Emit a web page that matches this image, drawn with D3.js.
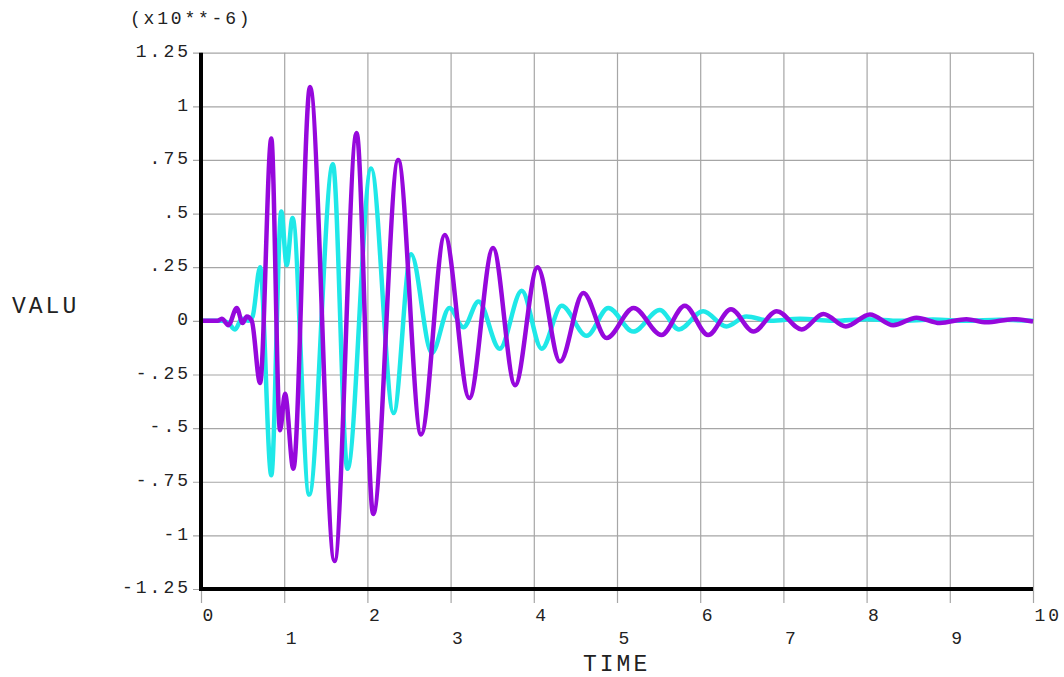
<!DOCTYPE html>
<html>
<head>
<meta charset="utf-8">
<script src="https://cdn.jsdelivr.net/npm/d3@7"></script>
<style>
  body { margin: 0; background: #fff; }
  text { font-family: "Liberation Mono", "DejaVu Sans Mono", monospace; fill: #222; }
</style>
</head>
<body>
<div id="chart"></div>
<script>
// time values (s) and responses (x10**-6) at peaks / troughs
const cyanTime = [0, 0.25, 0.33, 0.41, 0.49, 0.57, 0.62, 0.71, 0.845, 0.965, 1.03, 1.10, 1.30, 1.585, 1.76,
  2.045, 2.315, 2.525, 2.775, 2.985, 3.155, 3.335, 3.59, 3.855, 4.095, 4.335, 4.635, 4.895, 5.195, 5.515,
  5.745, 6.035, 6.315, 6.555, 6.85, 7.2, 7.6, 8.0, 8.4, 8.8, 9.2, 9.6, 10]
const cyanValue = [0, 0, -0.01, -0.04, 0.01, 0, 0.02, 0.25, -0.72, 0.51, 0.26, 0.48, -0.81, 0.73, -0.69,
  0.71, -0.43, 0.31, -0.15, 0.06, -0.03, 0.09, -0.13, 0.14, -0.13, 0.07, -0.07, 0.06, -0.05, 0.05,
  -0.04, 0.045, -0.026, 0.02, 0, 0.01, 0, 0.008, 0, 0.006, 0, 0.005, 0]

const purpleTime = [0, 0.2, 0.25, 0.33, 0.43, 0.5, 0.55, 0.61, 0.71, 0.845, 0.95, 1.01, 1.11, 1.31, 1.605,
  1.87, 2.07, 2.37, 2.645, 2.93, 3.225, 3.51, 3.775, 4.045, 4.315, 4.595, 4.875, 5.2, 5.535, 5.815,
  6.095, 6.37, 6.64, 6.92, 7.22, 7.48, 7.75, 8.04, 8.32, 8.6, 8.88, 9.2, 9.44, 9.76, 10]
const purpleValue = [0, 0, 0.01, -0.02, 0.06, -0.01, 0.02, 0, -0.29, 0.85, -0.51, -0.34, -0.69, 1.09, -1.12,
  0.876, -0.90, 0.75, -0.53, 0.40, -0.36, 0.34, -0.30, 0.25, -0.19, 0.13, -0.08, 0.06, -0.066, 0.07,
  -0.066, 0.054, -0.05, 0.045, -0.04, 0.032, -0.026, 0.03, -0.02, 0.015, -0.01, 0.008, -0.007, 0.008, -0.003]

const yTicks = [1.25, 1, 0.75, 0.5, 0.25, 0, -0.25, -0.5, -0.75, -1, -1.25]
const yTickLabels = ["1.25", "1", ".75", ".5", ".25", "0", "-.25", "-.5", "-.75", "-1", "-1.25"]
const xTicks = [0, 1, 2, 3, 4, 5, 6, 7, 8, 9, 10]

const W = 1064, H = 677
const plotLeft = 201, plotRight = 1033, plotTop = 52.7, plotBottom = 589

const svg = d3.select("#chart")
  .append("svg")
    .attr("width", W)
    .attr("height", H)

const x = d3.scaleLinear().domain([0, 10]).range([plotLeft, plotRight])
const y = d3.scaleLinear().domain([-1.25, 1.25]).range([plotBottom, plotTop])

// horizontal grid + value labels
const yAxis = svg.append("g")
  .attr("transform", `translate(${plotLeft - 8},0)`)
  .call(d3.axisLeft(y)
    .tickValues(yTicks)
    .tickSize(-(plotRight - plotLeft + 8))
    .tickPadding(2)
    .tickFormat((d, i) => yTickLabels[i]))
yAxis.select(".domain").remove()
yAxis.selectAll("line").attr("stroke", "#a6a6a6").attr("stroke-width", 1.2)
yAxis.selectAll("text")
  .attr("dy", "0.32em")
  .attr("y", -2)
  .style("font-size", "18px")
  .style("letter-spacing", "3px")
  .style("font-family", "'Liberation Mono', monospace")
  .attr("fill", "#222")

// vertical grid + time labels (staggered in two rows)
const xAxis = svg.append("g")
  .attr("transform", `translate(0,603)`)
  .call(d3.axisBottom(x)
    .tickValues(xTicks)
    .tickSize(-(603 - plotTop))
    .tickFormat(d3.format("d")))
xAxis.select(".domain").remove()
xAxis.selectAll("line").attr("stroke", "#a6a6a6").attr("stroke-width", 1.2)
xAxis.selectAll("text")
  .attr("x", 1)
  .attr("dy", null)
  .attr("y", d => d % 2 === 0 ? 18 : 41)
  .attr("text-anchor", "start")
  .style("font-size", "18px")
  .style("letter-spacing", "3px")
  .style("font-family", "'Liberation Mono', monospace")
  .attr("fill", "#222")

const line = d3.line()
  .x(d => x(d[0]))
  .y(d => y(d[1]))
  .curve(d3.curveMonotoneX)

const cyan = cyanTime.map((t, i) => [t, cyanValue[i]])
const purple = purpleTime.map((t, i) => [t, purpleValue[i]])

svg.append("path")
  .datum(cyan)
  .attr("d", line)
  .attr("fill", "none")
  .attr("stroke", "#1fe8e8")
  .attr("stroke-width", 4.5)
  .attr("stroke-linejoin", "round")

svg.append("path")
  .datum(purple)
  .attr("d", line)
  .attr("fill", "none")
  .attr("stroke", "#9608dc")
  .attr("stroke-width", 4.5)
  .attr("stroke-linejoin", "round")

// black axis lines
svg.append("line")
  .attr("x1", plotLeft).attr("x2", plotLeft)
  .attr("y1", plotTop).attr("y2", plotBottom + 2)
  .attr("stroke", "#000").attr("stroke-width", 4)
svg.append("line")
  .attr("x1", plotLeft - 2).attr("x2", plotRight)
  .attr("y1", plotBottom).attr("y2", plotBottom)
  .attr("stroke", "#000").attr("stroke-width", 4)

// titles
svg.append("text")
  .attr("x", 130).attr("y", 24)
  .style("font-size", "18px")
  .style("letter-spacing", "2.8px")
  .text("(x10**-6)")

svg.append("text")
  .attr("x", 12).attr("y", 313)
  .style("font-size", "23px")
  .style("letter-spacing", "3px")
  .text("VALU")

svg.append("text")
  .attr("x", 583).attr("y", 671)
  .style("font-size", "23px")
  .style("letter-spacing", "3px")
  .text("TIME")
</script>
</body>
</html>
